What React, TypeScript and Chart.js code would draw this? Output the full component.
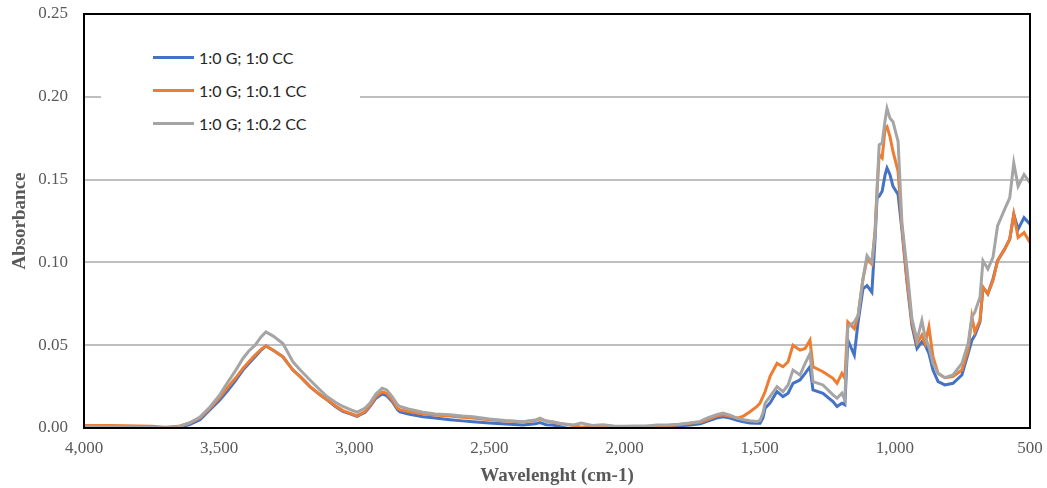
import React, { useEffect, useRef } from "react";
import { Chart, registerables } from "chart.js";

Chart.register(...registerables);

const wavenumbers = [
  4000, 3900, 3800, 3750, 3700, 3650, 3610, 3571, 3534, 3500, 3471, 3440, 3412, 3390, 3367, 3345, 3327, 3300, 3264,
  3227, 3200, 3164, 3130, 3101, 3070, 3042, 3010, 2990, 2960, 2942, 2920, 2897, 2880, 2860, 2840, 2831, 2800, 2746,
  2700, 2646, 2600, 2561, 2500, 2440, 2376, 2330, 2313, 2290, 2265, 2230, 2190, 2160, 2120, 2080, 2040, 2000, 1960,
  1920, 1880, 1840, 1800, 1758, 1720, 1695, 1660, 1636, 1610, 1584, 1560, 1536, 1510, 1499, 1488, 1480, 1462, 1436,
  1414, 1395, 1377, 1351, 1332, 1314, 1303, 1266, 1229, 1214, 1196, 1185, 1174, 1150, 1136, 1118, 1103, 1085, 1073,
  1066, 1058, 1047, 1036, 1029, 1018, 1007, 988, 974, 955, 937, 918, 900, 888, 874, 859, 840, 815, 785, 752, 729,
  715, 704, 685, 674, 656, 637, 620, 594, 575, 560, 544, 522, 500,
];

const series00 = [
  0.0008, 0.0008, 0.0005, 0.0003, 0.0002, 0.0003, 0.002, 0.005, 0.011, 0.0165, 0.022, 0.0285, 0.035, 0.039, 0.043,
  0.047, 0.0495, 0.047, 0.043, 0.035, 0.031, 0.025, 0.0205, 0.017, 0.013, 0.01, 0.0082, 0.007, 0.0095, 0.013, 0.018,
  0.0205, 0.0195, 0.016, 0.011, 0.0098, 0.0085, 0.0068, 0.006, 0.005, 0.0043, 0.0038, 0.003, 0.0024, 0.0018, 0.0025,
  0.0033, 0.002, 0.0018, 0.0005, -0.001, -0.002, -0.001, -0.002, -0.002, -0.002, -0.0015, -0.001, 0.0008, 0.0008,
  0.0012, 0.0018, 0.0025, 0.004, 0.006, 0.0068, 0.006, 0.0046, 0.0038, 0.003, 0.0028, 0.0028, 0.006, 0.012, 0.015,
  0.022, 0.019, 0.021, 0.027, 0.029, 0.033, 0.037, 0.023, 0.021, 0.016, 0.013, 0.015, 0.014, 0.053, 0.044, 0.064,
  0.084, 0.086, 0.082, 0.115, 0.139, 0.14, 0.143, 0.153, 0.157, 0.153, 0.146, 0.141, 0.12, 0.088, 0.062, 0.048,
  0.052, 0.05, 0.045, 0.035, 0.028, 0.026, 0.027, 0.032, 0.045, 0.053, 0.056, 0.064, 0.085, 0.081, 0.09, 0.101,
  0.108, 0.114, 0.129, 0.12, 0.127, 0.123,
];

const series01 = [
  0.0015, 0.0015, 0.0012, 0.001, 0.0005, 0.001, 0.003, 0.006, 0.012, 0.018, 0.024, 0.03, 0.036, 0.04, 0.044, 0.0475,
  0.0495, 0.047, 0.043, 0.035, 0.031, 0.025, 0.0205, 0.017, 0.0135, 0.0105, 0.0085, 0.0072, 0.01, 0.0135, 0.019,
  0.0218, 0.021, 0.017, 0.012, 0.011, 0.01, 0.0085, 0.0078, 0.0072, 0.0065, 0.006, 0.005, 0.0043, 0.0038, 0.0045,
  0.0055, 0.0042, 0.0035, 0.0025, 0.0015, 0.0005, 0.001, 0.0005, 0.0002, -0.0005, 0.0005, 0.0005, 0.0012, 0.0015,
  0.002, 0.0028, 0.0035, 0.005, 0.0072, 0.008, 0.007, 0.006, 0.0072, 0.0098, 0.013, 0.015, 0.019, 0.022, 0.031,
  0.039, 0.037, 0.04, 0.05, 0.047, 0.048, 0.053, 0.037, 0.034, 0.03, 0.027, 0.033, 0.03, 0.064, 0.06, 0.068, 0.09,
  0.102, 0.099, 0.12, 0.143, 0.165, 0.163, 0.181, 0.182, 0.176, 0.167, 0.155, 0.122, 0.089, 0.064, 0.051, 0.056,
  0.051, 0.061, 0.043, 0.033, 0.0304, 0.031, 0.035, 0.047, 0.067, 0.058, 0.065, 0.085, 0.081, 0.089, 0.101, 0.108,
  0.114, 0.129, 0.115, 0.118, 0.112,
];

const series02 = [
  0.0008, 0.0008, 0.0005, 0.0003, 0.0002, 0.0008, 0.003, 0.0066, 0.0127, 0.0195, 0.027, 0.0345, 0.042, 0.0465, 0.05,
  0.055, 0.058, 0.0555, 0.051, 0.04, 0.035, 0.029, 0.0235, 0.019, 0.0155, 0.013, 0.0108, 0.0095, 0.012, 0.015,
  0.0205, 0.024, 0.023, 0.019, 0.014, 0.013, 0.0115, 0.0095, 0.0085, 0.008, 0.0072, 0.0068, 0.0055, 0.0045, 0.0038,
  0.0048, 0.006, 0.0042, 0.0038, 0.0025, 0.0018, 0.003, 0.0015, 0.002, 0.0012, 0.001, 0.0012, 0.0012, 0.0018,
  0.0018, 0.0022, 0.003, 0.004, 0.006, 0.008, 0.009, 0.0078, 0.006, 0.005, 0.0044, 0.004, 0.0045, 0.009, 0.015,
  0.019, 0.025, 0.022, 0.026, 0.035, 0.032, 0.039, 0.045, 0.028, 0.026, 0.02, 0.018, 0.021, 0.017, 0.061, 0.064,
  0.068, 0.09, 0.104, 0.1, 0.117, 0.143, 0.171, 0.172, 0.186, 0.193, 0.187, 0.185, 0.173, 0.124, 0.096, 0.066,
  0.053, 0.065, 0.055, 0.049, 0.039, 0.033, 0.0304, 0.032, 0.039, 0.051, 0.067, 0.07, 0.079, 0.101, 0.096, 0.103,
  0.122, 0.132, 0.139, 0.16, 0.146, 0.153, 0.148,
];

const seriesLabels = ["1:0 G; 1:0 CC", "1:0 G; 1:0.1 CC", "1:0 G; 1:0.2 CC"];
const seriesColors = ["#4472C4", "#ED7D31", "#A5A5A5"];
const xTitle = "Wavelenght (cm-1)";
const yTitle = "Absorbance";

const framePlugin = {
  id: "frame",
  afterDraw(chart: any) {
    const { ctx, chartArea } = chart;
    ctx.save();
    ctx.strokeStyle = "#000000";
    ctx.lineWidth = 2;
    ctx.strokeRect(chartArea.left, chartArea.top, chartArea.right - chartArea.left, chartArea.bottom - chartArea.top);
    ctx.restore();
  },
};

export default function App() {
  const canvasRef = useRef<HTMLCanvasElement | null>(null);

  useEffect(() => {
    if (!canvasRef.current) return;
    const all = [series00, series01, series02];
    const chart = new Chart(canvasRef.current, {
      type: "line",
      data: {
        datasets: all.map((s, i) => ({
          label: seriesLabels[i],
          data: wavenumbers.map((w, j) => ({ x: w, y: s[j] })),
          borderColor: seriesColors[i],
          backgroundColor: seriesColors[i],
          borderWidth: 3,
          pointRadius: 0,
          tension: 0,
          order: 2 - i,
        })),
      },
      options: {
        responsive: false,
        animation: false,
        layout: { padding: { left: 0, right: 17, top: 14, bottom: 0 } },
        plugins: { legend: { display: false }, tooltip: { enabled: false } },
        scales: {
          x: {
            type: "linear",
            reverse: true,
            min: 500,
            max: 4000,
            afterFit: (s: any) => {
              s.height = 60;
              s.paddingLeft = 0;
              s.paddingRight = 0;
            },
            ticks: {
              stepSize: 500,
              padding: 10,
              color: "#595959",
              font: { family: "'Liberation Serif', 'Times New Roman', serif", size: 17 },
              callback: (v: any) => Number(v).toLocaleString("en-US"),
            },
            grid: { display: false, drawTicks: false },
            border: { display: false },
            title: {
              display: true,
              text: xTitle,
              color: "#595959",
              padding: { top: 0, bottom: 1 },
              font: { family: "'Liberation Serif', 'Times New Roman', serif", size: 19, weight: "bold" },
            },
          },
          y: {
            min: 0,
            max: 0.25,
            afterFit: (s: any) => {
              s.width = 84;
              s.paddingTop = 0;
              s.paddingBottom = 0;
            },
            ticks: {
              stepSize: 0.05,
              padding: 16,
              color: "#595959",
              font: { family: "'Liberation Serif', 'Times New Roman', serif", size: 17 },
              callback: (v: any) => Number(v).toFixed(2),
            },
            grid: { color: "#BFBFBF", lineWidth: 2, drawTicks: false },
            border: { display: false },
            title: {
              display: true,
              text: yTitle,
              color: "#595959",
              padding: { top: 9, bottom: 0 },
              font: { family: "'Liberation Serif', 'Times New Roman', serif", size: 19, weight: "bold" },
            },
          },
        },
      },
      plugins: [framePlugin],
    });
    return () => chart.destroy();
  }, []);

  const legendTops = [57, 90, 123];

  return (
    <div style={{ position: "fixed", left: 0, top: 0, width: 1047, height: 488, background: "#fff" }}>
      <canvas ref={canvasRef} width={1047} height={488} style={{ display: "block" }} />
      <div
        style={{
          position: "absolute",
          left: 101,
          top: 36,
          width: 259,
          height: 108,
          background: "#ffffff",
        }}
      >
        {seriesLabels.map((lab, i) => (
          <div
            key={lab}
            style={{
              position: "absolute",
              left: 52,
              top: legendTops[i] - 36 - 10,
              height: 20,
              display: "flex",
              alignItems: "center",
              whiteSpace: "nowrap",
            }}
          >
            <span
              style={{
                display: "inline-block",
                width: 41,
                height: 3,
                background: seriesColors[i],
                marginRight: 5,
              }}
            />
            <span style={{ fontFamily: "Lato, 'Open Sans', sans-serif", fontSize: 16, color: "#262626" }}>{lab}</span>
          </div>
        ))}
      </div>
    </div>
  );
}
